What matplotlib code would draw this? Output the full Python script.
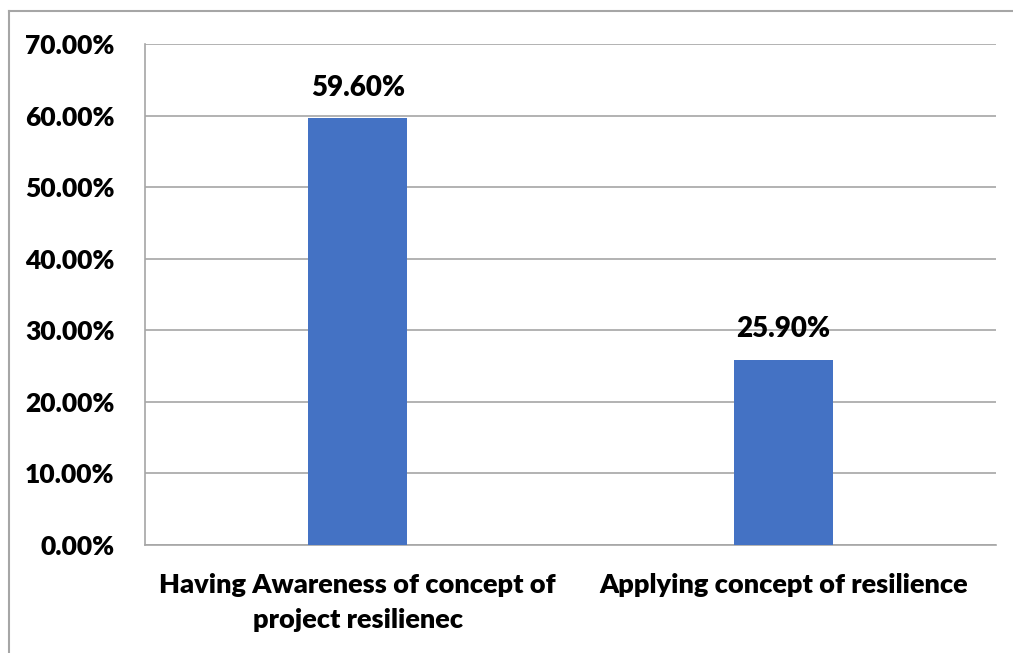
import matplotlib
matplotlib.use("Agg")
import matplotlib.pyplot as plt
from matplotlib.lines import Line2D
from matplotlib.ticker import FuncFormatter, MultipleLocator

categories = ["Having Awareness of concept of\nproject resilienec",
              "Applying concept of resilience"]
values = [0.596, 0.259]
value_labels = ["59.60%", "25.90%"]

W, H = 1013, 653
fig = plt.figure(figsize=(W / 100, H / 100), dpi=100)
plt.rcParams['font.family'] = ['Lato', 'DejaVu Sans']

ax = fig.add_axes([145 / W, 1 - 545 / H, (996 - 145) / W, (545 - 44) / H])
x = list(range(len(categories)))
ax.bar(x, values, width=0.233, color="#4472C4", zorder=3)
ax.set_xlim(-0.5, len(categories) - 0.5)
ax.set_ylim(0, 0.70)
ax.yaxis.set_major_locator(MultipleLocator(0.10))
ax.yaxis.set_major_formatter(FuncFormatter(lambda v, p: f"{v*100:.2f}%"))
ax.grid(axis="y", color="#a6a6a6", linewidth=1.2, zorder=0)
for s in ["top", "right"]:
    ax.spines[s].set_visible(False)
for s in ["left", "bottom"]:
    ax.spines[s].set_color("#a6a6a6")
    ax.spines[s].set_linewidth(1.2)
ax.tick_params(axis="y", length=0, labelsize=19, pad=22)
ax.tick_params(axis="x", length=0, labelsize=19.5, pad=20)
ax.set_xticks(x)
ax.set_xticklabels(categories, fontweight="heavy", linespacing=1.55)
for t in ax.get_yticklabels():
    t.set_fontweight("heavy")
for xi, v, lab in zip(x, values, value_labels):
    ax.annotate(lab, (xi, v), xytext=(0, 16), textcoords="offset points",
                ha="center", va="baseline", fontsize=20, fontweight="heavy")

# outer frame (top and left visible)
fig.add_artist(Line2D([9 / W, 1.0], [1 - 11 / H, 1 - 11 / H], color="#a6a6a6",
                      linewidth=1.5, transform=fig.transFigure))
fig.add_artist(Line2D([9 / W, 9 / W], [0, 1 - 11 / H], color="#a6a6a6",
                      linewidth=1.5, transform=fig.transFigure))

fig.savefig("out.png", dpi=100)
